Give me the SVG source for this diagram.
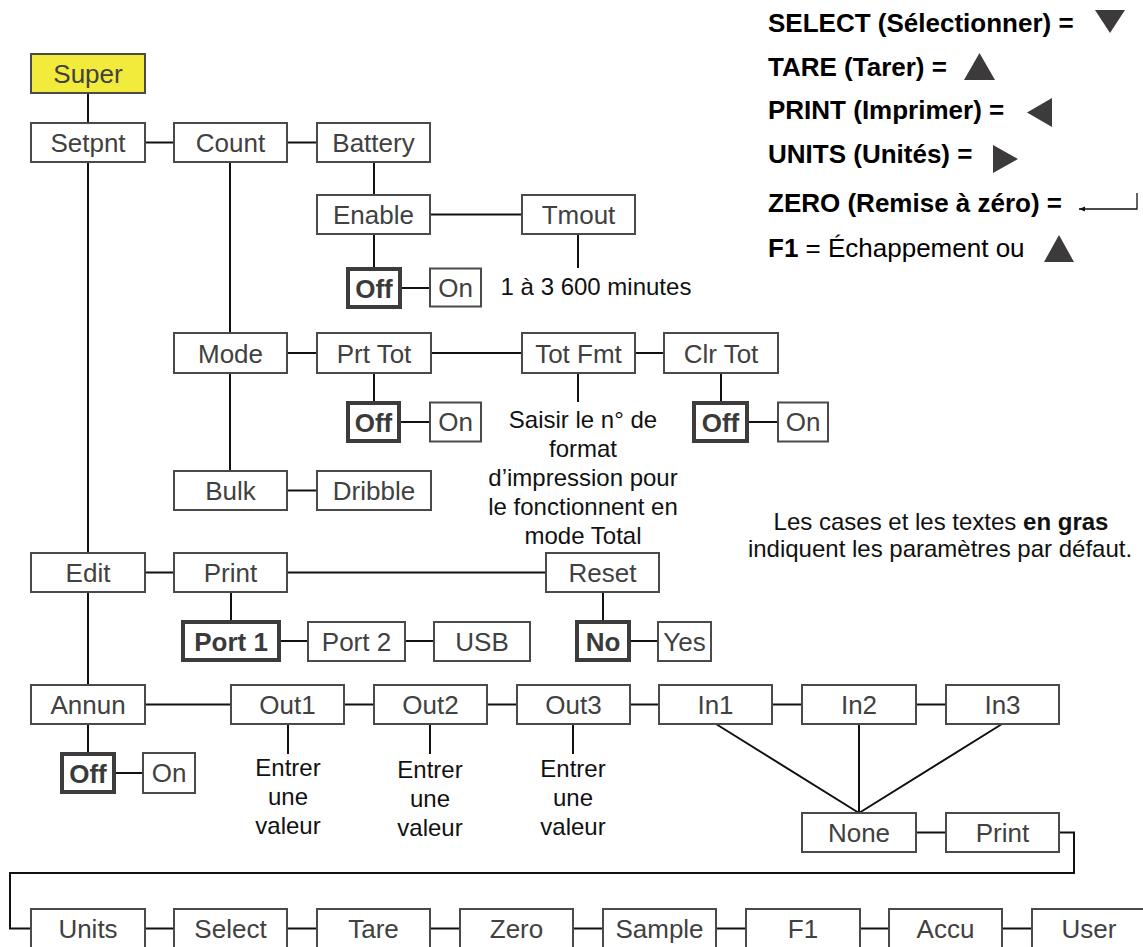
<svg xmlns="http://www.w3.org/2000/svg" width="1143" height="947" viewBox="0 0 1143 947">
<style>
.box{fill:#fff;stroke:#4a4a4a;stroke-width:2}
.bx{fill:#fff;stroke:#3d3b3c;stroke-width:4}
.sup{fill:#f2eb3b;stroke:#4a4a4a;stroke-width:2}
.t{font-family:"Liberation Sans",Arial,sans-serif;font-size:26px;fill:#414141;text-anchor:middle}
.tb{font-family:"Liberation Sans",Arial,sans-serif;font-size:26px;fill:#3a3a3a;text-anchor:middle;font-weight:bold}
.a{font-family:"Liberation Sans",Arial,sans-serif;font-size:24px;fill:#111;text-anchor:middle}
.lg{font-family:"Liberation Sans",Arial,sans-serif;font-size:26px;font-weight:bold;fill:#000}
.c{stroke:#111;stroke-width:2;fill:none}
.tri{fill:#3d3a3b}
</style>
<defs>
<marker id="ah" viewBox="0 0 10 10" refX="10" refY="5" markerWidth="7" markerHeight="6" orient="auto" markerUnits="userSpaceOnUse">
<path d="M0,1 L10,5 L0,9 Z" fill="#111"/>
</marker>
</defs>

<g id="connectors">
<path class="c" d="M88,93V123 M145,142.5H174 M287,142.5H317 M88,162V553 M230,162V333 M230,373V471 M374,162V195"/>
<path class="c" d="M430,214.5H522 M374,234V267 M402,288H429 M578,234V268"/>
<path class="c" d="M287,353H317 M431,353H522 M635,353H664 M374,373V401 M401,422H430 M578,373V402 M721,373V401 M749,422H778"/>
<path class="c" d="M287,490.5H317"/>
<path class="c" d="M145,572.5H174 M287,572.5H546 M231,592V620 M281,641H308 M405,641H434 M603,592V620 M631,641H658"/>
<path class="c" d="M88,592V685 M145,704.5H231 M344,704.5H374 M487,704.5H517 M630,704.5H659 M772,704.5H802 M916,704.5H946 M88,724V752 M116,773H143"/>
<path class="c" d="M288,724V754 M430,724V754 M573,724V754"/>
<path class="c" d="M716,724L859,813 M859,724V813 M1002,724L859,813 M916,832.5H946"/>
<path class="c" d="M1059,832.5H1074V873H10V928.5H31"/>
<path class="c" d="M145,928.5H174 M287,928.5H317 M430,928.5H460 M573,928.5H603 M716,928.5H746 M860,928.5H889 M1002,928.5H1032"/>
</g>

<g id="super"><rect class="sup" x="31" y="54" width="114" height="39"/><text class="t" x="88" y="83">Super</text></g>
<g id="setpnt"><rect class="box" x="31" y="123" width="114" height="39"/><text class="t" x="88" y="152">Setpnt</text></g>
<g id="count"><rect class="box" x="174" y="123" width="113" height="39"/><text class="t" x="230.5" y="152">Count</text></g>
<g id="battery"><rect class="box" x="317" y="123" width="113" height="39"/><text class="t" x="373.5" y="152">Battery</text></g>
<g id="enable"><rect class="box" x="317" y="195" width="113" height="39"/><text class="t" x="373.5" y="224">Enable</text></g>
<g id="tmout"><rect class="box" x="522" y="195" width="113" height="39"/><text class="t" x="578.5" y="224">Tmout</text></g>
<g id="enable-off"><rect class="bx" x="348" y="269" width="52" height="38"/><text class="tb" x="374" y="297.5">Off</text></g>
<g id="enable-on"><rect class="box" x="430" y="268.5" width="51" height="38"/><text class="t" x="455.5" y="297">On</text></g>
<g id="tmout-note"><text class="a" x="596" y="295">1 à 3 600 minutes</text></g>

<g id="mode"><rect class="box" x="174" y="333" width="113" height="40"/><text class="t" x="230.5" y="362.5">Mode</text></g>
<g id="prttot"><rect class="box" x="317" y="333" width="114" height="40"/><text class="t" x="374" y="362.5">Prt Tot</text></g>
<g id="totfmt"><rect class="box" x="522" y="333" width="113" height="40"/><text class="t" x="578.5" y="362.5">Tot Fmt</text></g>
<g id="clrtot"><rect class="box" x="664" y="333" width="114" height="40"/><text class="t" x="721" y="362.5">Clr Tot</text></g>
<g id="prttot-off"><rect class="bx" x="348" y="403" width="51" height="38"/><text class="tb" x="373.5" y="431.5">Off</text></g>
<g id="prttot-on"><rect class="box" x="430" y="402.5" width="51" height="39"/><text class="t" x="455.5" y="431">On</text></g>
<g id="clrtot-off"><rect class="bx" x="694" y="403" width="53" height="38"/><text class="tb" x="720.5" y="431.5">Off</text></g>
<g id="clrtot-on"><rect class="box" x="778" y="402.5" width="50" height="39"/><text class="t" x="803" y="431">On</text></g>
<g id="totfmt-note">
<text class="a" x="583" y="428">Saisir le n° de</text>
<text class="a" x="583" y="457">format</text>
<text class="a" x="583" y="486">d’impression pour</text>
<text class="a" x="583" y="515">le fonctionnent en</text>
<text class="a" x="583" y="544">mode Total</text>
</g>
<g id="bulk"><rect class="box" x="174" y="471" width="113" height="39"/><text class="t" x="230.5" y="500">Bulk</text></g>
<g id="dribble"><rect class="box" x="317" y="471" width="114" height="39"/><text class="t" x="374" y="500">Dribble</text></g>

<g id="edit"><rect class="box" x="31" y="553" width="114" height="39"/><text class="t" x="88" y="582">Edit</text></g>
<g id="print"><rect class="box" x="174" y="553" width="113" height="39"/><text class="t" x="230.5" y="582">Print</text></g>
<g id="reset"><rect class="box" x="546" y="553" width="113" height="39"/><text class="t" x="602.5" y="582">Reset</text></g>
<g id="port1"><rect class="bx" x="183" y="622" width="96" height="38"/><text class="tb" x="231" y="650.5">Port 1</text></g>
<g id="port2"><rect class="box" x="308" y="622" width="97" height="39"/><text class="t" x="356.5" y="650.5">Port 2</text></g>
<g id="usb"><rect class="box" x="434" y="622" width="96" height="39"/><text class="t" x="482" y="650.5">USB</text></g>
<g id="no"><rect class="bx" x="577" y="622" width="52" height="38"/><text class="tb" x="603" y="650.5">No</text></g>
<g id="yes"><rect class="box" x="658" y="622" width="53" height="39"/><text class="t" x="684.5" y="650.5">Yes</text></g>

<g id="legend-default">
<text class="a" x="941" y="530">Les cases et les textes <tspan font-weight="bold">en gras</tspan></text>
<text class="a" x="940" y="557">indiquent les paramètres par défaut.</text>
</g>

<g id="annun"><rect class="box" x="31" y="685" width="114" height="39"/><text class="t" x="88" y="714">Annun</text></g>
<g id="out1"><rect class="box" x="231" y="685" width="113" height="39"/><text class="t" x="287.5" y="714">Out1</text></g>
<g id="out2"><rect class="box" x="374" y="685" width="113" height="39"/><text class="t" x="430.5" y="714">Out2</text></g>
<g id="out3"><rect class="box" x="517" y="685" width="113" height="39"/><text class="t" x="573.5" y="714">Out3</text></g>
<g id="in1"><rect class="box" x="659" y="685" width="113" height="39"/><text class="t" x="715.5" y="714">In1</text></g>
<g id="in2"><rect class="box" x="802" y="685" width="114" height="39"/><text class="t" x="859" y="714">In2</text></g>
<g id="in3"><rect class="box" x="946" y="685" width="113" height="39"/><text class="t" x="1002.5" y="714">In3</text></g>
<g id="annun-off"><rect class="bx" x="62" y="754" width="52" height="38"/><text class="tb" x="88" y="782.5">Off</text></g>
<g id="annun-on"><rect class="box" x="143" y="753" width="52" height="40"/><text class="t" x="169" y="782">On</text></g>
<g id="out1-note"><text class="a" x="288" y="776">Entrer</text><text class="a" x="288" y="805">une</text><text class="a" x="288" y="834">valeur</text></g>
<g id="out2-note"><text class="a" x="430" y="778">Entrer</text><text class="a" x="430" y="807">une</text><text class="a" x="430" y="836">valeur</text></g>
<g id="out3-note"><text class="a" x="573" y="777">Entrer</text><text class="a" x="573" y="806">une</text><text class="a" x="573" y="835">valeur</text></g>
<g id="none"><rect class="box" x="802" y="813" width="114" height="39"/><text class="t" x="859" y="842">None</text></g>
<g id="print2"><rect class="box" x="946" y="813" width="113" height="39"/><text class="t" x="1002.5" y="842">Print</text></g>

<g id="units"><rect class="box" x="31" y="909" width="114" height="42"/><text class="t" x="88" y="938">Units</text></g>
<g id="select"><rect class="box" x="174" y="909" width="113" height="42"/><text class="t" x="230.5" y="938">Select</text></g>
<g id="tare"><rect class="box" x="317" y="909" width="113" height="42"/><text class="t" x="373.5" y="938">Tare</text></g>
<g id="zero"><rect class="box" x="460" y="909" width="113" height="42"/><text class="t" x="516.5" y="938">Zero</text></g>
<g id="sample"><rect class="box" x="603" y="909" width="113" height="42"/><text class="t" x="659.5" y="938">Sample</text></g>
<g id="f1"><rect class="box" x="746" y="909" width="114" height="42"/><text class="t" x="803" y="938">F1</text></g>
<g id="accu"><rect class="box" x="889" y="909" width="113" height="42"/><text class="t" x="945.5" y="938">Accu</text></g>
<g id="user"><rect class="box" x="1032" y="909" width="115" height="42"/><text class="t" x="1089" y="938">User</text></g>

<g id="legend">
<text class="lg" x="768" y="32">SELECT (Sélectionner) =</text>
<polygon class="tri" points="1095,10 1125,10 1110,33"/>
<text class="lg" x="768" y="75.5">TARE (Tarer) =</text>
<polygon class="tri" points="979.5,53 995,80 964,80"/>
<text class="lg" x="768" y="118.5">PRINT (Imprimer) =</text>
<polygon class="tri" points="1027,112.5 1052,98 1052,127"/>
<text class="lg" x="768" y="162.5">UNITS (Unités) =</text>
<polygon class="tri" points="993,145 1018,159 993,173"/>
<text class="lg" x="768" y="211.5">ZERO (Remise à zéro) =</text>
<path d="M1137,193V209H1079" fill="none" stroke="#111" stroke-width="1.3" marker-end="url(#ah)"/>
<text class="lg" x="768" y="256.5">F1<tspan font-weight="normal"> = Échappement ou</tspan></text>
<polygon class="tri" points="1059,235 1074,262 1044,262"/>
</g>
</svg>
